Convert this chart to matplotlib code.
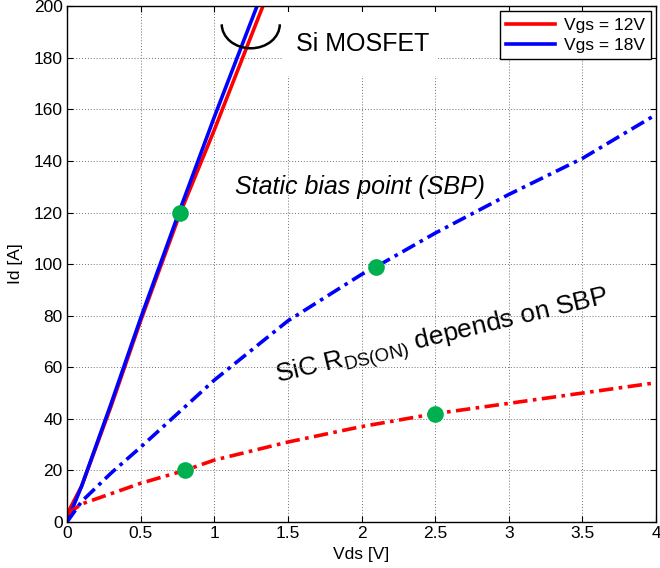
import matplotlib
matplotlib.use("Agg")
import matplotlib.pyplot as plt
from matplotlib.patches import Arc, Rectangle

plt.rcParams['font.family'] = ['Liberation Sans', 'DejaVu Sans']

# Si MOSFET curves
si12_x = [0, 0.1, 0.3, 0.5, 0.77, 1.0, 1.33]
si12_y = [3, 14, 45, 78, 120, 152, 200]
si18_x = [0, 0.1, 0.3, 0.5, 0.76, 1.0, 1.29]
si18_y = [0, 14, 46, 79, 120, 157, 200]

# SiC curves
sic12_x = [0, 0.1, 0.3, 0.5, 0.8, 1.0, 1.5, 2.0, 2.5, 3.0, 3.5, 4.0]
sic12_y = [3, 7, 11, 15, 20, 24, 31, 37, 42, 46, 50, 54]
sic18_x = [0, 0.1, 0.3, 0.5, 1.0, 1.5, 2.0, 2.1, 2.5, 3.0, 3.5, 4.0]
sic18_y = [0, 8, 19, 29, 55, 78, 96, 99, 112, 127, 141, 158]

# static bias points
sbp_x = [0.77, 2.1, 0.8, 2.5]
sbp_y = [120, 99, 20, 42]

legend_labels = ['Vgs = 12V', 'Vgs = 18V']

fig = plt.figure(figsize=(6.6, 5.68), dpi=100)
ax = fig.add_axes([0.1015, 0.081, 0.8925, 0.908])
ax.set_axisbelow(False)

red = '#ff0000'
blue = '#0000ff'
lw = 2.6
dashdot = (0, (4, 1.5, 1, 1.5))

l1, = ax.plot(si12_x, si12_y, color=red, lw=lw, zorder=3)
l2, = ax.plot(si18_x, si18_y, color=blue, lw=lw, zorder=3)
ax.plot(sic12_x, sic12_y, color=red, lw=lw, linestyle=dashdot, zorder=3)
ax.plot(sic18_x, sic18_y, color=blue, lw=lw, linestyle=dashdot, zorder=3)
ax.plot(sbp_x, sbp_y, 'o', color='#00b050', markersize=12, zorder=4, markeredgewidth=0)

ax.set_xlim(0, 4)
ax.set_ylim(0, 200)
ax.set_xticks([0, 0.5, 1, 1.5, 2, 2.5, 3, 3.5, 4])
ax.set_xticklabels(['0', '0.5', '1', '1.5', '2', '2.5', '3', '3.5', '4'])
ax.set_yticks(range(0, 201, 20))
ax.tick_params(direction='in', labelsize=12.5, length=4, top=True, right=True, pad=3)
ax.grid(True, color='#707070', linestyle=(0, (1, 2)), linewidth=0.7, zorder=2)
for s in ax.spines.values():
    s.set_linewidth(1.0)
    s.set_zorder(6)

ax.set_xlabel('Vds [V]', fontsize=12.5, labelpad=4)
ax.set_ylabel('Id [A]', fontsize=12.5, labelpad=8)

# white box behind Si MOSFET label
ax.add_patch(Rectangle((0.367, 0.864), 0.263, 0.124, transform=ax.transAxes,
                       facecolor='white', edgecolor='none', zorder=2.6))
ax.text(0.389, 0.926, 'Si MOSFET', transform=ax.transAxes, fontsize=18,
        va='center', ha='left', zorder=5)
ax.add_patch(Arc((0.312, 0.965), 0.0985, 0.093, theta1=180, theta2=360,
                 transform=ax.transAxes, color='black', lw=1.8, zorder=5, clip_on=False))

ax.text(1.14, 130, 'Static bias point (SBP)', fontsize=18, style='italic',
        va='center', ha='left', zorder=1)
ax.text(1.42, 56, r'SiC R$_{\mathregular{DS(ON)}}$ depends on SBP', fontsize=19,
        rotation=13.5, va='center', ha='left', zorder=1, rotation_mode='anchor')

leg = ax.legend([l1, l2], legend_labels, loc='upper right', fontsize=12.5,
                fancybox=False, edgecolor='black', framealpha=1,
                handlelength=2.8, borderaxespad=0.3, borderpad=0.35,
                labelspacing=0.3, handletextpad=0.5)
leg.get_frame().set_linewidth(1.0)
leg.set_zorder(7)

fig.savefig('out.png', dpi=100)
